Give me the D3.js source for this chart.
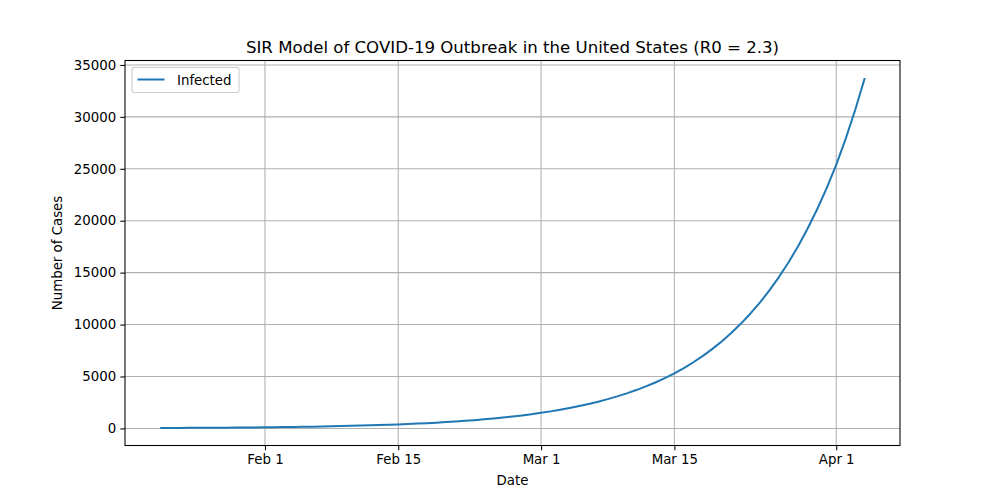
<!DOCTYPE html>
<html>
<head>
<meta charset="utf-8">
<script src="https://cdn.jsdelivr.net/npm/d3@7"></script>
<style>
html,body{margin:0;padding:0;background:#fff;}
svg{display:block;font-family:"DejaVu Sans",sans-serif;}
</style>
</head>
<body>
<svg id="chart" width="1000" height="500"></svg>
<script>
// ---- data ----
const startDate = "2020-01-21";
const infected = [41,45,49,54,59,64,70,77,84,92,101,110,120,132,144,158,173,189,207,226,
  247,271,296,324,355,388,425,465,509,557,609,667,729,798,874,956,1046,1145,1253,1371,
  1500,1641,1796,1966,2151,2354,2576,2819,3085,3376,3694,4043,4424,4841,5298,
  5809,6370,6985,7659,8398,9208,10097,11071,12140,13312,14597,16006,17551,19245,21102,23138,25371,
  27901,30683,33742];
const xTickDates = ["2020-02-01","2020-02-15","2020-03-01","2020-03-15","2020-04-01"];
const yTicks = [0,5000,10000,15000,20000,25000,30000,35000];
const seriesName = "Infected";
const titleText = "SIR Model of COVID-19 Outbreak in the United States (R0 = 2.3)";

// ---- layout ----
const L = 125, R = 900, T = 60.5, B = 445.5;
const svg = d3.select("#chart");
const parse = d3.utcParse("%Y-%m-%d");
const d0 = parse(startDate);
const points = infected.map((v, i) => ({date: d3.utcDay.offset(d0, i), value: v}));

const xExt = d3.extent(points, d => d.date);
const xSpan = xExt[1] - xExt[0];
const x = d3.scaleUtc()
  .domain([new Date(+xExt[0] - 0.05 * xSpan), new Date(+xExt[1] + 0.05 * xSpan)])
  .range([L, R]);
const yExt = d3.extent(points, d => d.value);
const ySpan = yExt[1] - yExt[0];
const y = d3.scaleLinear()
  .domain([yExt[0] - 0.05 * ySpan, yExt[1] + 0.05 * ySpan])
  .range([B, T]);

const xTicks = xTickDates.map(parse);
const fmt = d3.utcFormat("%b %-d");

// grid
const grid = svg.append("g");
grid.selectAll(".gx").data(xTicks).join("line")
  .attr("x1", d => x(d)).attr("x2", d => x(d)).attr("y1", T).attr("y2", B)
  .attr("stroke", "#b0b0b0").attr("stroke-width", 1.07);
grid.selectAll(".gy").data(yTicks).join("line")
  .attr("x1", L).attr("x2", R).attr("y1", d => y(d)).attr("y2", d => y(d))
  .attr("stroke", "#b0b0b0").attr("stroke-width", 1.07);

// line
const line = d3.line().x(d => x(d.date)).y(d => y(d.value));
svg.append("path").datum(points)
  .attr("d", line).attr("fill", "none")
  .attr("stroke", "#1f77b4").attr("stroke-width", 2)
  .attr("stroke-linejoin", "round").attr("stroke-linecap", "butt");

// axes
const xAxis = d3.axisBottom(x).tickValues(xTicks).tickFormat(fmt).tickSize(4.67).tickPadding(4.2);
const gx = svg.append("g").attr("transform", `translate(0,${B})`).call(xAxis);
const yAxis = d3.axisLeft(y).tickValues(yTicks).tickFormat(d3.format("d")).tickSize(4.67).tickPadding(4.2);
const gy = svg.append("g").attr("transform", `translate(${L},0)`).call(yAxis);
[gx, gy].forEach(g => {
  g.select(".domain").remove();
  g.selectAll(".tick line").attr("stroke", "#000").attr("stroke-width", 1.07);
  g.selectAll(".tick text").attr("fill", "#000")
    .style("font-family", "DejaVu Sans").style("font-size", "13.33px");
});

// spines
svg.append("rect").attr("x", L).attr("y", T).attr("width", R - L).attr("height", B - T)
  .attr("fill", "none").attr("stroke", "#000").attr("stroke-width", 1.07);

// title and labels
svg.append("text").attr("x", (L + R) / 2).attr("y", 53)
  .attr("text-anchor", "middle").style("font-size", "16.6px").attr("fill", "#000")
  .text(titleText);
svg.append("text").attr("x", (L + R) / 2).attr("y", 484.5)
  .attr("text-anchor", "middle").style("font-size", "13.33px").attr("fill", "#000")
  .text("Date");
svg.append("text")
  .attr("transform", `translate(62,${(T + B) / 2}) rotate(-90)`)
  .attr("text-anchor", "middle").style("font-size", "13.33px").attr("fill", "#000")
  .text("Number of Cases");

// legend
const lg = svg.append("g");
lg.append("rect").attr("x", 132).attr("y", 67.5).attr("width", 107).attr("height", 25)
  .attr("rx", 2.5).attr("fill", "#fff").attr("fill-opacity", 0.8)
  .attr("stroke", "#cccccc").attr("stroke-width", 1.07);
lg.append("line").attr("x1", 137.5).attr("x2", 164.5).attr("y1", 79.5).attr("y2", 79.5)
  .attr("stroke", "#1f77b4").attr("stroke-width", 2);
lg.append("text").attr("x", 177).attr("y", 84.5)
  .style("font-size", "13.33px").attr("fill", "#000").text(seriesName);
</script>
</body>
</html>
